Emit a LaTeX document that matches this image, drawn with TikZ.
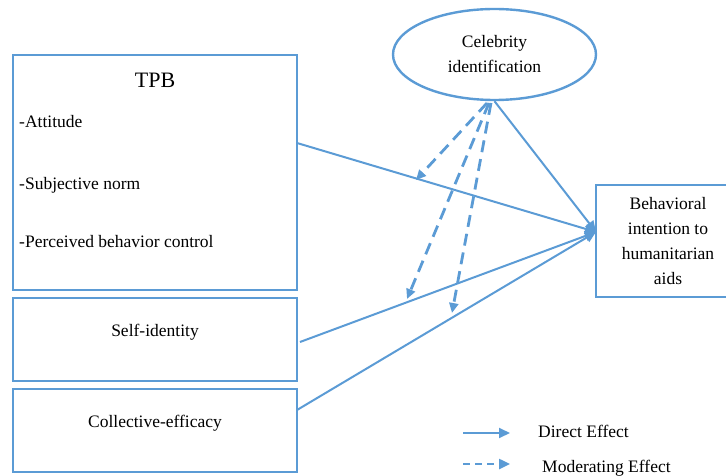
\documentclass[tikz,border=0pt]{standalone}
\usepackage{fontspec}
\setmainfont{Liberation Serif}
\newfontfamily\timesf{Liberation Serif}
\usetikzlibrary{arrows.meta,shapes.geometric}
\definecolor{lb}{RGB}{91,155,213}
\begin{document}
\begin{tikzpicture}[x=1pt,y=-1pt,
  box/.style={draw=lb,line width=2.4pt,inner sep=0pt,rectangle},
  txt/.style={inner sep=0pt,font=\timesf\fontsize{17.5}{25}\selectfont,text=black},
  direct/.style={draw=lb,line width=2pt,-{Triangle[length=11pt,width=10pt]}},
  moder/.style={draw=lb,line width=2.8pt,dash pattern=on 12pt off 7pt,-{Triangle[length=10pt,width=9pt]}},
  moderleg/.style={draw=lb,line width=2.4pt,dash pattern=on 7pt off 5pt,-{Triangle[length=11pt,width=10pt]}}]
\useasboundingbox (0,0) rectangle (726,476);
\clip (0,0) rectangle (726,476);

% boxes
\node[box,minimum width=284pt,minimum height=235pt] (tpb) at (155,172.5) {};
\node[box,minimum width=284pt,minimum height=83pt] (si) at (155,339.5) {};
\node[box,minimum width=284pt,minimum height=83pt] (ce) at (155,430.5) {};
\node[box,txt,align=center,minimum width=144pt,minimum height=112pt] (bi) at (668,241)
  {Behavioral\\intention to\\humanitarian\\aids};
\node[ellipse,draw=lb,line width=2.4pt,txt,align=center,minimum width=203pt,minimum height=91pt] (cel) at (494.5,54.5)
  {Celebrity\\identification};

% texts
\node[txt,font=\timesf\fontsize{22}{26}\selectfont] (tpbt) at (155,80) {TPB};
\node[txt,anchor=west] (att) at (19,122) {-Attitude};
\node[txt,anchor=west] (sn) at (19,185) {-Subjective norm};
\node[txt,anchor=west] (pbc) at (19,242) {-Perceived behavior control};
\node[txt] (sit) at (155,332) {Self-identity};
\node[txt] (cet) at (155,423) {Collective-efficacy};

% connection points
\coordinate (tgt) at (596,232);
\coordinate (tpbo) at (297,143);
\coordinate (sio) at (300,342);
\coordinate (ceo) at (297,410);
\coordinate (m1s) at (487,103);
\coordinate (m2s) at (489,103);
\coordinate (m3s) at (491,103);
\coordinate (m1e) at (416,180);
\coordinate (m2e) at (407,299);
\coordinate (m3e) at (452,313);

% direct effects
\draw[direct] (tpbo) -- (tgt);
\draw[direct] (sio) -- (tgt);
\draw[direct] (ceo) -- (tgt);
\draw[direct] (cel.south) -- (tgt);

% moderating effects
\draw[moder] (m1s) -- (m1e);
\draw[moder] (m2s) -- (m2e);
\draw[moder] (m3s) -- (m3e);

% legend
\coordinate (l1a) at (463,433);
\coordinate (l1b) at (510,433);
\coordinate (l2a) at (463,464);
\coordinate (l2b) at (510,464);
\draw[direct] (l1a) -- (l1b);
\draw[moderleg] (l2a) -- (l2b);
\node[txt,anchor=west] (lg1) at (538,431) {Direct Effect};
\node[txt,anchor=west] (lg2) at (542,468) {Moderating Effect};
\end{tikzpicture}
\end{document}
